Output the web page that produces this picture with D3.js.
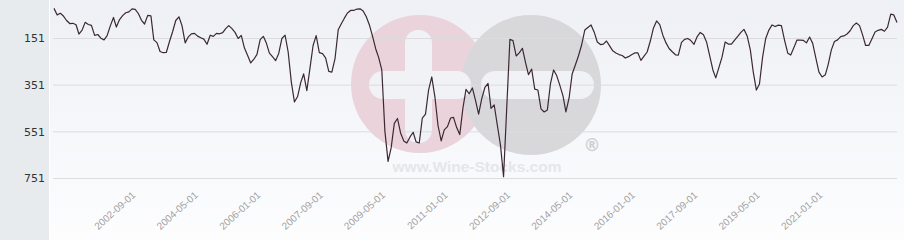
<!DOCTYPE html>
<html>
<head>
<meta charset="utf-8">
<script src="https://cdn.jsdelivr.net/npm/d3@7"></script>
<style>
  html, body { margin: 0; padding: 0; background: #fff; }
  .canvas { width: 904px; height: 240px; position: relative; overflow: hidden; }
  .ylabel { font-family: "DejaVu Sans", sans-serif; font-size: 11px; fill: #333; }
  .xlabel { font-family: "Liberation Sans", Arial, sans-serif; font-size: 10px; fill: #a0a0a0; }
</style>
</head>
<body>
<div class="canvas"></div>
<script>
// first month of the series, one value per month after it
const startMonth = "2000-07-01";

const rankValues = [
  24, 52, 45, 57, 76, 89, 88, 94, 134, 117,
  84, 93, 97, 140, 136, 152, 159, 141, 99, 63,
  104, 72, 55, 43, 39, 26, 28, 46, 75, 91,
  54, 56, 159, 171, 209, 214, 213, 166, 123, 76,
  60, 98, 172, 146, 133, 131, 143, 150, 156, 178,
  139, 144, 131, 133, 128, 110, 98, 111, 127, 153,
  140, 194, 226, 258, 242, 221, 158, 144, 171, 216,
  231, 248, 217, 153, 139, 211, 340, 425, 402, 341,
  305, 377, 282, 183, 141, 214, 218, 236, 294, 297,
  239, 116, 91, 66, 44, 33, 33, 27, 26, 35,
  60, 95, 144, 198, 234, 288, 550, 680, 622, 517,
  496, 558, 592, 601, 575, 555, 596, 601, 494, 477,
  374, 318, 404, 526, 592, 545, 531, 494, 491, 535,
  565, 451, 371, 390, 365, 417, 477, 412, 363, 346,
  453, 438, 524, 610, 745, 451, 157, 162, 228, 215,
  195, 258, 308, 284, 370, 374, 455, 468, 460, 348,
  288, 312, 354, 400, 468, 408, 305, 267, 228, 181,
  117, 106, 95, 125, 168, 179, 177, 164, 185, 206,
  215, 222, 226, 237, 231, 223, 215, 215, 247, 229,
  211, 164, 109, 78, 94, 139, 172, 196, 210, 223,
  224, 170, 157, 153, 162, 178, 145, 127, 137, 168,
  228, 288, 322, 277, 233, 168, 177, 177, 160, 144,
  127, 114, 142, 202, 295, 374, 348, 232, 153, 117,
  95, 102, 96, 98, 161, 216, 224, 192, 160, 160,
  161, 172, 147, 174, 237, 297, 318, 309, 265, 202,
  166, 159, 145, 142, 134, 120, 98, 87, 98, 140,
  183, 183, 155, 125, 118, 114, 122, 104, 49, 52,
  85
];

const yTicks = [151, 351, 551, 751];

const xTickLabels = [
  "2002-09-01", "2004-05-01", "2006-01-01", "2007-09-01", "2009-05-01",
  "2011-01-01", "2012-09-01", "2014-05-01", "2016-01-01", "2017-09-01",
  "2019-05-01", "2021-01-01"
];

const watermarkText = "www.Wine-Stocks.com";

setup();

function setup() {
  const W = 904;
  const H = 240;
  const panel = 49;
  const parse = d3.timeParse("%Y-%m-%d");
  const start = parse(startMonth);
  const dataset = rankValues.map((v, i) => ({ date: d3.timeMonth.offset(start, i), value: v }));

  const x = d3
    .scaleTime()
    .domain(d3.extent(dataset, (d) => d.date))
    .range([54, 897]);

  // rank axis, smaller numbers on top
  const y = d3.scaleLinear().domain([151, 751]).range([38, 178]);

  const svg = d3
    .select(".canvas")
    .append("svg")
    .attr("width", W)
    .attr("height", H);

  const defs = svg.append("defs");
  const grad = defs
    .append("linearGradient")
    .attr("id", "bg")
    .attr("x1", 0).attr("y1", 0)
    .attr("x2", 0).attr("y2", 1);
  grad.append("stop").attr("offset", "0%").attr("stop-color", "#eef0f5");
  grad.append("stop").attr("offset", "75%").attr("stop-color", "#f9fafc");
  grad.append("stop").attr("offset", "100%").attr("stop-color", "#fdfdfe");

  svg.append("rect").attr("width", panel).attr("height", H).attr("fill", "#e7ebee");
  svg.append("rect")
    .attr("x", panel + 1)
    .attr("width", W - panel - 1)
    .attr("height", H)
    .attr("fill", "url(#bg)");

  // watermark logo
  const wm = svg.append("g");
  wm.append("circle").attr("cx", 420).attr("cy", 84).attr("r", 69).attr("fill", "#ead3da");
  wm.append("circle").attr("cx", 531).attr("cy", 85).attr("r", 70).attr("fill", "#d8d8db");
  wm.append("rect")
    .attr("x", 369).attr("y", 71).attr("width", 102).attr("height", 28).attr("rx", 14)
    .attr("fill", "#f1f2f6");
  wm.append("rect")
    .attr("x", 405).attr("y", 30).attr("width", 27).attr("height", 113).attr("rx", 13)
    .attr("fill", "#f1f2f6");
  wm.append("rect")
    .attr("x", 481).attr("y", 71).attr("width", 113).attr("height", 28).attr("rx", 14)
    .attr("fill", "#f1f2f6");
  wm.append("text")
    .attr("x", 477).attr("y", 172)
    .attr("text-anchor", "middle")
    .style("font-family", "Liberation Sans, Arial, sans-serif")
    .style("font-weight", "bold")
    .style("font-size", "15.5px")
    .attr("fill", "#e5e6ea")
    .text(watermarkText);
  wm.append("text")
    .attr("x", 592).attr("y", 151)
    .attr("text-anchor", "middle")
    .style("font-family", "DejaVu Sans, sans-serif")
    .style("font-weight", "bold")
    .style("font-size", "17px")
    .attr("fill", "#cfcfd2")
    .text("\u00ae");

  // grid + y labels
  const yAxis = d3.axisLeft(y).tickValues(yTicks).tickSize(-(897 - 53)).tickPadding(8);
  const gy = svg.append("g").attr("transform", "translate(53,0)").call(yAxis);
  gy.select(".domain").remove();
  gy.selectAll("line").attr("stroke", "#dcdcdc");
  gy.selectAll("text").attr("class", "ylabel").attr("x", -8).attr("dy", "0.35em").attr("fill", null);
  gy.attr("font-size", null).attr("font-family", null);

  // x labels, rotated
  svg
    .append("g")
    .selectAll("text")
    .data(xTickLabels)
    .enter()
    .append("text")
    .attr("class", "xlabel")
    .attr("text-anchor", "end")
    .attr("transform", (d) => `translate(${x(parse(d)) + 1}, 196) rotate(-42)`)
    .text((d) => d);

  const line = d3
    .line()
    .x((d) => x(d.date))
    .y((d) => y(d.value));

  svg
    .append("path")
    .datum(dataset)
    .attr("d", line)
    .attr("fill", "none")
    .attr("stroke", "#3b2833")
    .attr("stroke-width", 1.2)
    .attr("stroke-linejoin", "round");
}
</script>
</body>
</html>
